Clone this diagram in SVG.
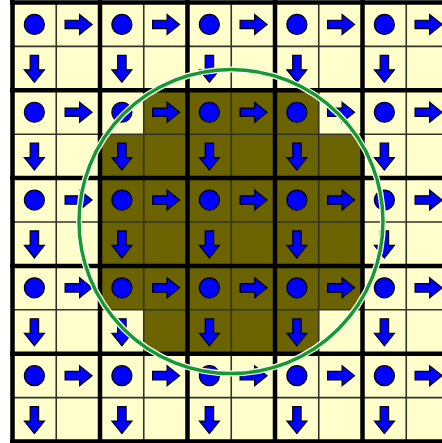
<svg xmlns="http://www.w3.org/2000/svg" xmlns:xlink="http://www.w3.org/1999/xlink" width="442" height="443" viewBox="0 0 442 443">
<style>
.tok{fill:#0000FF;stroke:#000;stroke-width:1.2;stroke-linejoin:miter}
.thin{stroke:#33332a;stroke-width:1.6;fill:none}
.thick{stroke:#000;stroke-width:4.5;fill:none}
</style>
<defs>
<circle id="dot" class="tok" r="10"/>
<path id="ra" class="tok" d="M-13,-4.2 H1.5 V-10 L14,0 L1.5,10 V4.2 H-13 Z"/>
<path id="da" class="tok" d="M-13,-4.2 H1.5 V-10 L14,0 L1.5,10 V4.2 H-13 Z" transform="rotate(90)"/>
<g id="big">
<use xlink:href="#dot" x="21.9" y="21.95"/>
<use xlink:href="#ra" x="65.6" y="21.95"/>
<g transform="translate(21.9,65.85)"><use xlink:href="#da"/></g>
</g>
</defs>
<rect width="442" height="443" fill="#fff"/>
<g id="board">
<rect x="12.5" y="2.5" width="437.5" height="439" fill="#FFFFCC"/>
<path d="M143.75,90.3 H318.75 V134.2 H362.5 V310.1 H318.75 V354 H143.75 V310.1 H100 V134.2 H143.75 Z" fill="#6B6200"/>
<g class="thin">
<path d="M56.25,2.5V441.5M143.75,2.5V441.5M231.25,2.5V441.5M318.75,2.5V441.5M406.25,2.5V441.5"/>
<path d="M12.5,46.4H450M12.5,134.2H450M12.5,222H450M12.5,309.8H450M12.5,397.6H450"/>
</g>
<g class="thick">
<path d="M12.5,0V443M100,0V443M187.5,0V443M275,0V443M362.5,0V443"/>
<path d="M10,2.5H450M10,90.3H450M10,178.1H450M10,265.9H450M10,353.7H450M10,441.5H450"/>
</g>
</g>
<g id="c00" transform="translate(12.5,2.5)"><use xlink:href="#big"/></g>
<g id="c01" transform="translate(100,2.5)"><use xlink:href="#big"/></g>
<g id="c02" transform="translate(187.5,2.5)"><use xlink:href="#big"/></g>
<g id="c03" transform="translate(275,2.5)"><use xlink:href="#big"/></g>
<g id="c04" transform="translate(362.5,2.5)"><use xlink:href="#big"/></g>
<g id="c10" transform="translate(12.5,90.3)"><use xlink:href="#big"/></g>
<g id="c11" transform="translate(100,90.3)"><use xlink:href="#big"/></g>
<g id="c12" transform="translate(187.5,90.3)"><use xlink:href="#big"/></g>
<g id="c13" transform="translate(275,90.3)"><use xlink:href="#big"/></g>
<g id="c14" transform="translate(362.5,90.3)"><use xlink:href="#big"/></g>
<g id="c20" transform="translate(12.5,178.1)"><use xlink:href="#big"/></g>
<g id="c21" transform="translate(100,178.1)"><use xlink:href="#big"/></g>
<g id="c22" transform="translate(187.5,178.1)"><use xlink:href="#big"/></g>
<g id="c23" transform="translate(275,178.1)"><use xlink:href="#big"/></g>
<g id="c24" transform="translate(362.5,178.1)"><use xlink:href="#big"/></g>
<g id="c30" transform="translate(12.5,265.9)"><use xlink:href="#big"/></g>
<g id="c31" transform="translate(100,265.9)"><use xlink:href="#big"/></g>
<g id="c32" transform="translate(187.5,265.9)"><use xlink:href="#big"/></g>
<g id="c33" transform="translate(275,265.9)"><use xlink:href="#big"/></g>
<g id="c34" transform="translate(362.5,265.9)"><use xlink:href="#big"/></g>
<g id="c40" transform="translate(12.5,353.7)"><use xlink:href="#big"/></g>
<g id="c41" transform="translate(100,353.7)"><use xlink:href="#big"/></g>
<g id="c42" transform="translate(187.5,353.7)"><use xlink:href="#big"/></g>
<g id="c43" transform="translate(275,353.7)"><use xlink:href="#big"/></g>
<g id="c44" transform="translate(362.5,353.7)"><use xlink:href="#big"/></g>
<g id="ring">
<circle cx="231" cy="221.5" r="152" fill="none" stroke="#fff" stroke-width="6"/>
<circle cx="231" cy="221.5" r="152" fill="none" stroke="#17992B" stroke-width="3.5"/>
</g>
</svg>
